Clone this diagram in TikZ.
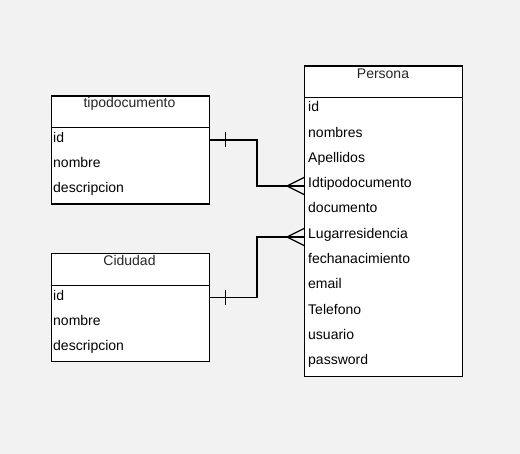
\documentclass[tikz,border=0pt]{standalone}
\usepackage{fontspec}
\setmainfont{Liberation Sans}
\usetikzlibrary{calc}
\begin{document}
\begin{tikzpicture}[x=1pt,y=-1pt,
  tbl/.style={draw=black, fill=white, line width=1.2pt, rectangle, anchor=north west, inner sep=0pt},
  ttl/.style={anchor=base, inner sep=0pt, text=black!85, font=\fontsize{14}{16}\selectfont},
  fld/.style={anchor=base west, inner sep=0pt, text=black, font=\fontsize{14}{16}\selectfont},
  conn/.style={line width=1.2pt, draw=black}]
\fill[black!5] (0,0) rectangle (520,454);
\useasboundingbox (0,0) rectangle (520,454);
% tables
\node[tbl, minimum width=158pt, minimum height=108pt] (tipo) at (50.5,95.5) {};
\node[tbl, minimum width=158pt, minimum height=108pt] (ciu) at (50.5,253) {};
\node[tbl, minimum width=158pt, minimum height=310.5pt] (per) at (304,65.5) {};
\draw[conn] (tipo.west |- 0,127.5) -- (tipo.east |- 0,127.5);
\draw[conn] (ciu.west |- 0,285.5) -- (ciu.east |- 0,285.5);
\draw[conn] (per.west |- 0,97.5) -- (per.east |- 0,97.5);
% titles
\node[ttl] (tipot) at (129.5,108) {tipodocumento};
\node[ttl] (ciut) at (129.5,265.5) {Cidudad};
\node[ttl] (pert) at (383,79) {Persona};
% fields
\node[fld] (t1) at (53,143) {id};
\node[fld] (t2) at (53,168) {nombre};
\node[fld] (t3) at (53,193) {descripcion};
\node[fld] (c1) at (53,300.5) {id};
\node[fld] (c2) at (53,325.5) {nombre};
\node[fld] (c3) at (53,350.5) {descripcion};
\foreach \t [count=\i from 0] in {id,nombres,Apellidos,Idtipodocumento,documento,Lugarresidencia,fechanacimiento,email,Telefono,usuario,password}
  \node[fld] (p\i) at (308,{111.8+25.3*\i}) {\t};
% connector anchors
\coordinate (a1) at (tipo.east |- 0,140);
\coordinate (b1) at (per.west |- 0,186);
\coordinate (a2) at (ciu.east |- 0,297.5);
\coordinate (b2) at (per.west |- 0,237);
\draw[conn] (a1) -- (257,140) -- (257,186) -- (b1);
\draw[conn] (a2) -- (257,297.5) -- (257,237) -- (b2);
% one marks
\draw[conn] (225.5,132.5) -- (225.5,147.5);
\draw[conn] (225.5,290) -- (225.5,305);
% crow's feet
\draw[conn] ($(b1)+(0,-8.5)$) -- ++(-17,8.5) -- ++(17,8.5);
\draw[conn] ($(b2)+(0,-8.5)$) -- ++(-17,8.5) -- ++(17,8.5);
\end{tikzpicture}
\end{document}
